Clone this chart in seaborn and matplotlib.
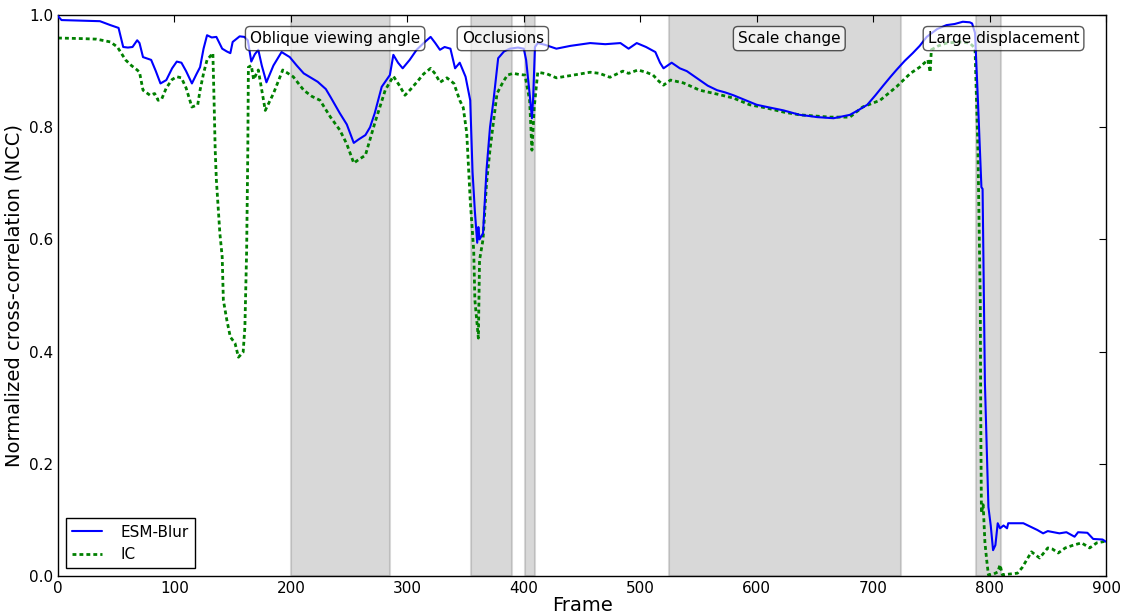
import numpy as np
import pandas as pd
import matplotlib
matplotlib.use("Agg")
import matplotlib.pyplot as plt
import seaborn as sns

# ESM-Blur tracking quality per frame
esm_frames = [0, 3, 20, 36, 45, 52, 54, 56, 60, 64, 68, 70, 73, 80, 84, 88, 93, 98, 102, 106,
              110, 115, 119, 122, 125, 128, 132, 136, 141, 145, 148, 150, 156, 160, 163, 166,
              169, 172, 175, 179, 185, 192, 199, 205, 211, 223, 230, 234, 242, 248, 254, 258,
              264, 268, 272, 278, 285, 288, 292, 296, 302, 308, 314, 320, 324, 328, 332, 337,
              341, 345, 350, 354, 356, 358, 360, 361, 362, 365, 368, 371, 374, 378, 383, 388,
              395, 400, 402, 405, 407, 408, 409.6, 412, 418, 428, 440, 457, 470, 483, 490, 497,
              505, 513, 517, 520, 527, 534, 540, 551, 558, 566, 573, 580, 594, 600, 609, 623,
              637, 645, 652, 666, 680, 687, 695, 702, 709, 715, 720, 727, 734, 740, 746, 755,
              763, 770, 777, 783, 785, 787.5, 790, 793, 794, 796, 799, 801, 803, 805, 807, 809,
              812, 815, 816, 829, 835, 841, 846, 850, 855, 860, 866, 873, 876, 884, 889, 897, 900]
esm_ncc = [0.998, 0.991, 0.990, 0.989, 0.982, 0.977, 0.960, 0.943, 0.942, 0.943, 0.955, 0.950,
           0.925, 0.920, 0.900, 0.878, 0.884, 0.905, 0.917, 0.915, 0.900, 0.878, 0.895, 0.907,
           0.940, 0.964, 0.960, 0.961, 0.940, 0.935, 0.932, 0.952, 0.962, 0.961, 0.955, 0.917,
           0.930, 0.938, 0.910, 0.880, 0.910, 0.934, 0.925, 0.910, 0.896, 0.881, 0.868, 0.854,
           0.825, 0.805, 0.772, 0.778, 0.786, 0.800, 0.825, 0.872, 0.893, 0.929, 0.915, 0.905,
           0.920, 0.938, 0.950, 0.961, 0.950, 0.938, 0.943, 0.940, 0.905, 0.915, 0.890, 0.848,
           0.720, 0.650, 0.594, 0.622, 0.600, 0.611, 0.724, 0.800, 0.848, 0.923, 0.935, 0.940,
           0.942, 0.940, 0.920, 0.860, 0.816, 0.850, 0.943, 0.950, 0.947, 0.940, 0.945, 0.950,
           0.948, 0.950, 0.940, 0.950, 0.943, 0.934, 0.915, 0.905, 0.915, 0.905, 0.900, 0.884,
           0.874, 0.866, 0.862, 0.857, 0.845, 0.840, 0.836, 0.830, 0.822, 0.820, 0.818, 0.816,
           0.822, 0.830, 0.840, 0.857, 0.875, 0.890, 0.902, 0.918, 0.932, 0.945, 0.961, 0.975,
           0.982, 0.984, 0.988, 0.987, 0.985, 0.968, 0.848, 0.693, 0.690, 0.344, 0.123, 0.090,
           0.046, 0.055, 0.094, 0.085, 0.090, 0.085, 0.094, 0.094, 0.088, 0.082, 0.076, 0.080,
           0.078, 0.076, 0.078, 0.070, 0.078, 0.077, 0.066, 0.065, 0.061]

# IC tracking quality per frame
ic_frames = [0, 20, 33, 45, 51, 55, 58, 63, 68, 70, 73, 79, 83, 86, 89, 93, 98, 102, 106, 110,
             115, 120, 122, 125, 128, 133, 134, 135, 136, 139, 141, 142, 145, 148, 152, 155,
             159, 160.5, 162, 163, 163.5, 166, 168, 172, 178, 185, 193, 202, 211, 218, 225,
             234, 242, 248, 254, 258, 264, 272, 281, 288, 293, 298, 303, 308, 314, 320, 324,
             328, 334, 340, 345, 348, 351, 354, 357, 358, 361, 362, 365, 368, 371, 374, 377,
             382, 386, 391, 396, 401, 405, 407, 409, 412, 420, 428, 440, 457, 465, 474, 485,
             490, 498, 505, 511, 516, 520, 526, 537, 551, 566, 580, 594, 609, 623, 637, 663,
             680, 691, 706, 720, 732, 740, 747, 749, 750, 756, 763, 774, 783, 787.5, 790, 792,
             792.5, 793, 794.5, 796, 797.5, 799, 803, 807, 809, 811, 824, 828, 832, 836, 843,
             850, 854, 859, 865, 872, 879, 886, 892, 897, 900]
ic_ncc = [0.959, 0.958, 0.957, 0.952, 0.943, 0.930, 0.920, 0.910, 0.902, 0.898, 0.866, 0.857,
          0.860, 0.848, 0.850, 0.870, 0.885, 0.890, 0.888, 0.870, 0.836, 0.840, 0.866, 0.896,
          0.920, 0.932, 0.850, 0.759, 0.706, 0.611, 0.569, 0.492, 0.456, 0.426, 0.415, 0.390,
          0.399, 0.444, 0.580, 0.759, 0.907, 0.910, 0.885, 0.902, 0.830, 0.860, 0.902, 0.890,
          0.866, 0.855, 0.848, 0.818, 0.795, 0.770, 0.736, 0.742, 0.750, 0.807, 0.866, 0.891,
          0.875, 0.857, 0.868, 0.880, 0.895, 0.905, 0.895, 0.880, 0.888, 0.878, 0.848, 0.835,
          0.790, 0.670, 0.580, 0.492, 0.424, 0.563, 0.600, 0.700, 0.760, 0.810, 0.860, 0.880,
          0.893, 0.896, 0.894, 0.893, 0.848, 0.759, 0.836, 0.898, 0.895, 0.888, 0.892, 0.898,
          0.896, 0.889, 0.900, 0.896, 0.902, 0.898, 0.893, 0.882, 0.875, 0.884, 0.879, 0.866,
          0.859, 0.852, 0.840, 0.834, 0.827, 0.822, 0.818, 0.818, 0.836, 0.848, 0.872, 0.896,
          0.907, 0.920, 0.898, 0.938, 0.945, 0.950, 0.952, 0.950, 0.941, 0.760, 0.492, 0.255,
          0.112, 0.127, 0.060, 0.029, 0.002, 0.003, 0.007, 0.020, 0.002, 0.005, 0.015, 0.029,
          0.043, 0.032, 0.050, 0.048, 0.041, 0.050, 0.055, 0.059, 0.050, 0.059, 0.061, 0.062]

# Challenging segments of the sequence (start frame, end frame)
segment_starts = [200, 355, 401, 525, 788]
segment_ends = [285, 390, 410, 724, 810]

# Segment captions and where they sit (frame, NCC)
caption_texts = ["Oblique viewing angle", "Occlusions", "Scale change", "Large displacement"]
caption_frames = [238, 382, 628, 812]
caption_levels = [0.958, 0.958, 0.958, 0.958]

sns.set_style("white")
plt.rcParams.update({
    "font.family": ["DejaVu Sans"],
    "text.color": "black",
    "axes.labelcolor": "black",
    "xtick.direction": "in",
    "ytick.direction": "in",
    "xtick.top": True,
    "ytick.right": True,
    "xtick.major.size": 5,
    "ytick.major.size": 5,
    "xtick.major.width": 0.8,
    "ytick.major.width": 0.8,
    "axes.edgecolor": "black",
    "axes.linewidth": 1.0,
    "xtick.color": "black",
    "ytick.color": "black",
    "xtick.labelsize": 11,
    "ytick.labelsize": 11,
})

fig = plt.figure(figsize=(11.24, 6.13), dpi=100)
ax = fig.add_axes([0.0516, 0.0604, 0.9324, 0.9151])

for s, e in zip(segment_starts, segment_ends):
    ax.axvspan(s, e, color="0.5", alpha=0.3, lw=1.5, zorder=0)

esm_df = pd.DataFrame({"frame": esm_frames, "ncc": esm_ncc})
ic_df = pd.DataFrame({"frame": ic_frames, "ncc": ic_ncc})

sns.lineplot(data=esm_df, x="frame", y="ncc", ax=ax, color="#0000ff", lw=1.5,
             label="ESM-Blur", estimator=None, sort=False, zorder=3)
sns.lineplot(data=ic_df, x="frame", y="ncc", ax=ax, color="#008000", lw=2.0,
             dashes=False, label="IC", estimator=None, sort=False, zorder=2)
ic_dash = (1.4, 1.1)
ax.lines[-1].set_dashes(ic_dash)

for txt, fx, fy in zip(caption_texts, caption_frames, caption_levels):
    ax.text(fx, fy, txt, ha="center", va="center", fontsize=11, zorder=5,
            bbox=dict(boxstyle="round,pad=0.3", fc="white", ec="black", alpha=0.65))

ax.set_xlim(0, 900)
ax.set_ylim(0, 1.0)
ax.set_xticks(np.arange(0, 901, 100))
ax.set_yticks(np.arange(0, 1.01, 0.2))
ax.set_yticklabels([f"{v:.1f}" for v in np.arange(0, 1.01, 0.2)])
ax.set_xlabel("Frame", fontsize=14, labelpad=0)
ax.set_ylabel("Normalized cross-correlation (NCC)", fontsize=14, labelpad=4)

leg = ax.legend(loc="lower left", fontsize=11, fancybox=False, framealpha=1,
                edgecolor="black", handlelength=2.0, handletextpad=1.2,
                borderaxespad=0.5)
leg.get_frame().set_linewidth(1.0)
for h in leg.get_lines():
    if h.get_label() == "IC":
        h.set_dashes(ic_dash)

fig.savefig("out.png", dpi=100)
